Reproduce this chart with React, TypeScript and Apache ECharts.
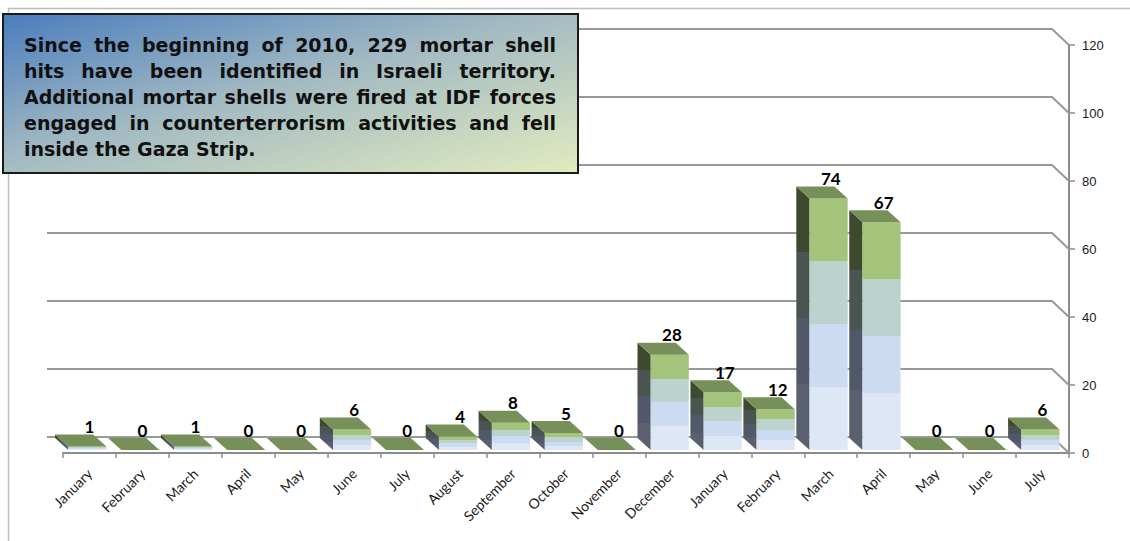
import React, { useEffect, useRef } from "react";
import * as echarts from "echarts";

const months = [
  "January", "February", "March", "April", "May", "June", "July", "August",
  "September", "October", "November", "December",
  "January", "February", "March", "April", "May", "June", "July",
];
const hits = [1, 0, 1, 0, 0, 6, 0, 4, 8, 5, 0, 28, 17, 12, 74, 67, 0, 0, 6];
const yTicks = [0, 20, 40, 60, 80, 100, 120];
const noteLines = [
  "Since the beginning of 2010, 229 mortar shell",
  "hits have been identified in Israeli territory.",
  "Additional mortar shells were fired at IDF forces",
  "engaged in counterterrorism activities and fell",
  "inside the Gaza Strip.",
];

const frontBands = ["#a5c47b", "#bcd3cd", "#cddbf2", "#dde7f6"];
const sideBands = ["#3e4a2d", "#4a5450", "#515869", "#5a606f"];
const topColor = "#77905a";

function bands(colors: string[]) {
  const stops: { offset: number; color: string }[] = [];
  colors.forEach((c, i) => {
    stops.push({ offset: i / colors.length, color: c });
    stops.push({ offset: (i + 1) / colors.length, color: c });
  });
  return new echarts.graphic.LinearGradient(0, 0, 0, 1, stops);
}

const NOTE_FONT = '"DejaVu Sans", sans-serif';

function buildNote() {
  const left = 24;
  const right = 556;
  const width = right - left;
  const canvas = document.createElement("canvas");
  const ctx = canvas.getContext("2d")!;
  ctx.font = `bold 16px ${NOTE_FONT}`;
  const w3 = ctx.measureText(noteLines[2]).width;
  let fs = (16 * (width - 2)) / w3;
  fs = Math.max(14, Math.min(19, fs));
  ctx.font = `bold ${fs}px ${NOTE_FONT}`;
  const els: any[] = [];
  noteLines.forEach((line, li) => {
    const y = 45 + li * 26;
    const words = line.split(" ");
    const ws = words.map((w) => ctx.measureText(w).width);
    const total = ws.reduce((a, b) => a + b, 0);
    const last = li === noteLines.length - 1;
    const gap = last
      ? ctx.measureText(" ").width
      : (width - total) / Math.max(1, words.length - 1);
    let x = left;
    words.forEach((w, wi) => {
      els.push({
        type: "text",
        x,
        y,
        z: 101,
        style: {
          text: w,
          fill: "#111",
          fontSize: fs,
          fontWeight: "bold",
          fontFamily: NOTE_FONT,
          align: "left",
          verticalAlign: "middle",
          textAlign: "left",
          textVerticalAlign: "middle",
        },
      });
      x += ws[wi] + gap;
    });
  });
  return els;
}

export default function App() {
  const ref = useRef<HTMLDivElement>(null);
  useEffect(() => {
    if (!ref.current) return;
    const chart = echarts.init(ref.current, undefined, { renderer: "svg" });
    const option: any = {
      animation: false,
      backgroundColor: "#ffffff",
      grid: { left: 63, right: 61, top: 45, bottom: 88, containLabel: false },
      xAxis: {
        type: "category",
        data: months,
        boundaryGap: true,
        axisLine: { show: true, lineStyle: { color: "#8c8c8c", width: 2 } },
        axisTick: { show: true, length: 5, lineStyle: { color: "#8c8c8c", width: 1.5 } },
        axisLabel: {
          rotate: 45,
          interval: 0,
          fontSize: 14,
          fontFamily: "Lato, sans-serif",
          color: "#1a1a1a",
          margin: 18,
        },
        splitLine: { show: false },
      },
      yAxis: {
        type: "value",
        position: "right",
        min: 0,
        max: 120,
        interval: 20,
        axisLine: { show: true, lineStyle: { color: "#8c8c8c", width: 2 } },
        axisTick: { show: true, inside: false, length: 6, lineStyle: { color: "#8c8c8c", width: 1.5 } },
        axisLabel: {
          fontSize: 13,
          fontFamily: '"Liberation Sans", Arial, sans-serif',
          color: "#1a1a1a",
          margin: 13,
        },
        splitLine: { show: false },
      },
      series: [
        {
          type: "custom",
          z: 1,
          silent: true,
          data: yTicks.map((v) => [0, v]),
          renderItem: (params: any, api: any) => {
            const v = api.value(1);
            const p = api.coord([0, v]);
            const cs = params.coordSys;
            const x0 = cs.x;
            const x1 = cs.x + cs.width;
            const y = p[1];
            return {
              type: "polyline",
              shape: {
                points: [
                  [x0 - 16, y - 16],
                  [x1 - 17, y - 16],
                  [x1, y],
                ],
              },
              style: { stroke: "#999999", lineWidth: 2, fill: "none" },
            };
          },
        },
        {
          type: "custom",
          z: 2,
          data: hits.map((v, i) => [i, v]),
          renderItem: (params: any, api: any) => {
            const i = api.value(0);
            const v = api.value(1);
            const top = api.coord([i, v]);
            const base = api.coord([i, 0]);
            const bw = api.size([1, 0])[0];
            const cx = top[0];
            const xl = cx - bw * 0.4;
            const xr = cx + bw * 0.32;
            const dx = -bw * 0.25;
            const dy = -12;
            const yT = top[1] - 3;
            const yB = base[1] - 3;
            const children: any[] = [];
            if (yB - yT > 0.5) {
              children.push({
                type: "polygon",
                shape: { points: [[xl, yT], [xl + dx, yT + dy], [xl + dx, yB + dy], [xl, yB]] },
                style: { fill: bands(sideBands) },
              });
              children.push({
                type: "rect",
                shape: { x: xl, y: yT, width: xr - xl, height: yB - yT },
                style: { fill: bands(frontBands) },
              });
            }
            children.push({
              type: "polygon",
              shape: { points: [[xl, yT], [xr, yT], [xr + dx, yT + dy], [xl + dx, yT + dy]] },
              style: { fill: topColor },
            });
            children.push({
              type: "text",
              x: cx,
              y: yT + dy - 8,
              style: {
                text: String(v),
                fill: "#000",
                fontSize: 17,
                fontWeight: "bold",
                fontFamily: "Lato, sans-serif",
                align: "center",
                verticalAlign: "middle",
                textAlign: "center",
                textVerticalAlign: "middle",
              },
            });
            return { type: "group", children };
          },
        },
      ],
      graphic: [
        {
          type: "rect",
          z: 0,
          silent: true,
          shape: { x: 8.5, y: 8.5, width: 1300, height: 700 },
          style: { fill: "none", stroke: "#bdbdbd", lineWidth: 1.5 },
        },
        {
          type: "rect",
          z: 100,
          shape: { x: 3, y: 14, width: 575, height: 159 },
          style: {
            fill: new echarts.graphic.LinearGradient(0, 0, 1, 1, [
              { offset: 0, color: "#4a7dbe" },
              { offset: 0.45, color: "#a0b8c2" },
              { offset: 1, color: "#e2ebbf" },
            ]),
            stroke: "#1a1a1a",
            lineWidth: 2,
          },
        },
        ...buildNote(),
      ],
    };
    chart.setOption(option);
    return () => chart.dispose();
  }, []);
  return (
    <div
      ref={ref}
      style={{ position: "absolute", left: 0, top: 0, width: 1130, height: 541, background: "#fff" }}
    />
  );
}
